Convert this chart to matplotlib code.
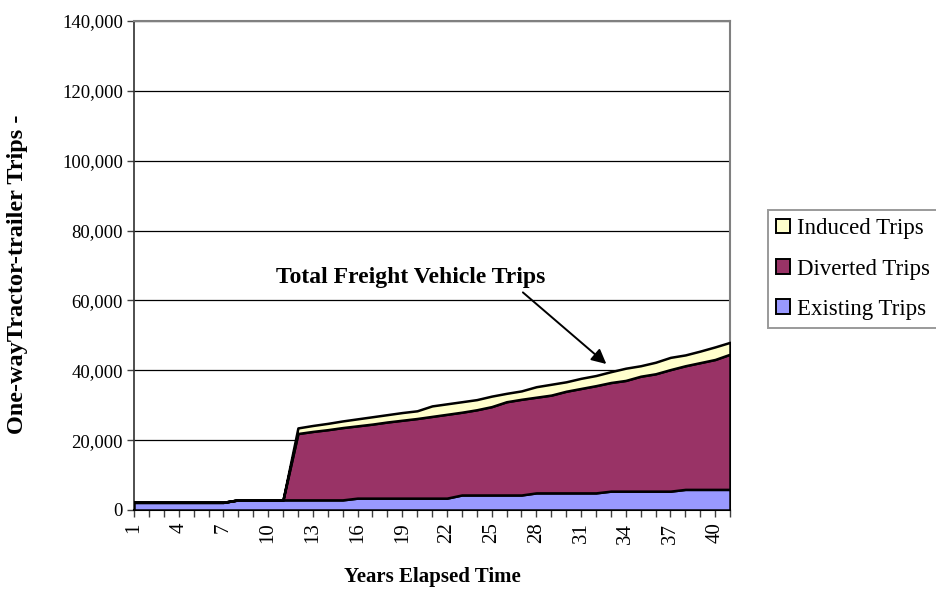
import matplotlib
matplotlib.use('Agg')
import matplotlib.pyplot as plt
import numpy as np
from matplotlib.ticker import FuncFormatter, MultipleLocator

# Freight vehicle trips by year of operation (one-way tractor-trailer trips).
years = list(range(1, 42))
existing = [2200] * 7 + [2900] * 8 + [3400] * 7 + [4300] * 5 + [4900] * 5 + [5400] * 5 + [5900] * 4
diverted = [0] * 11 + [19000, 19600, 20100, 20700, 20700, 21200, 21800, 22300, 22800, 23400,
                       24000, 23700, 24400, 25300, 26700, 27400, 27400, 28000, 29100, 29900,
                       30700, 31100, 31700, 32900, 33600, 34800, 35400, 36300, 37200, 38700]
induced = [0] * 11 + [1600, 1700, 1800, 1900, 2000, 2100, 2100, 2200, 2200, 3000,
                      3000, 3000, 2900, 3000, 2400, 2400, 3000, 3100, 2700, 2900,
                      2900, 3100, 3500, 3000, 3300, 3500, 3100, 3300, 3600, 3400]

series_names = ['Existing Trips', 'Diverted Trips', 'Induced Trips']
series_colors = ['#9999FF', '#993366', '#FFFFCC']
labelled_years = list(range(1, 41, 3))

plt.rcParams['font.family'] = ['Liberation Serif', 'DejaVu Serif']

fig = plt.figure(figsize=(9.36, 5.92), dpi=100)
ax = fig.add_axes([134 / 936, 1 - 510 / 592, (730 - 134) / 936, (510 - 21) / 592])

polys = ax.stackplot(years, existing, diverted, induced, colors=series_colors,
                     labels=series_names, edgecolor='black', linewidth=1.8, zorder=3)

ax.set_xlim(1, 41)
ax.set_ylim(0, 140000)

# Horizontal gridlines at every major y tick.
ax.yaxis.set_major_locator(MultipleLocator(20000))
ax.yaxis.set_major_formatter(FuncFormatter(lambda v, p: f'{int(v):,}'))
ax.grid(axis='y', color='black', linewidth=0.9, zorder=1)
ax.set_axisbelow(True)

ax.set_xticks(years)
ax.set_xticklabels([str(y) if y in labelled_years else '' for y in years], rotation=90)

ax.tick_params(axis='both', direction='out', length=5, width=1, color='#404040')
ax.tick_params(axis='y', pad=3, labelsize=13.5)
ax.tick_params(axis='x', pad=4, labelsize=15)

for side in ['top', 'right']:
    ax.spines[side].set_color('#808080')
    ax.spines[side].set_linewidth(1.5)
ax.spines['left'].set_color('#303030')
ax.spines['left'].set_linewidth(1.2)
ax.spines['bottom'].set_color('black')
ax.spines['bottom'].set_linewidth(1.5)

fig.text(18 / 936, 1 - 274 / 592, 'One-wayTractor-trailer Trips -', rotation=90,
         ha='center', va='center', fontsize=17.5, fontweight='bold')
fig.text(432 / 936, 1 - 577 / 592, 'Years Elapsed Time', ha='center', va='center',
         fontsize=15, fontweight='bold')

# Callout for the total of all three series.
ax.text(19.6, 66700, 'Total Freight Vehicle Trips', ha='center', va='center',
        fontsize=17, fontweight='bold')
ax.annotate('', xy=(32.7, 41800), xytext=(27.1, 62300),
            arrowprops=dict(arrowstyle='-|>', color='black', lw=1.4, mutation_scale=22,
                            shrinkA=0, shrinkB=0))

handles, labels = ax.get_legend_handles_labels()
leg = fig.legend(handles[::-1], labels[::-1], loc='upper left',
                 bbox_to_anchor=(768 / 936, 1 - 210 / 592), fontsize=16.5,
                 frameon=True, fancybox=False, edgecolor='#808080',
                 handlelength=0.62, handleheight=0.62, handletextpad=0.3,
                 labelspacing=0.85, borderpad=0.35, borderaxespad=0)
leg.get_frame().set_linewidth(1.4)
for h in leg.legend_handles:
    h.set_edgecolor('black')
    h.set_linewidth(1.4)

fig.savefig('out.png', dpi=100)
